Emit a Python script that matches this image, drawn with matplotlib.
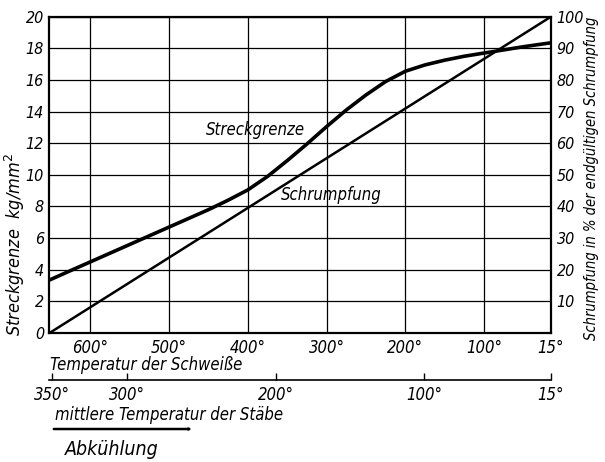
import matplotlib
matplotlib.use("Agg")
import matplotlib.pyplot as plt

# Temperatur der Schweisse (deg C) and Streckgrenze (kg/mm^2)
temp = [652, 625, 600, 575, 550, 525, 500, 475, 450, 425, 400, 375, 350,
        325, 300, 275, 250, 225, 200, 175, 150, 125, 100, 75, 50, 15]
streck = [3.35, 3.95, 4.5, 5.05, 5.6, 6.15, 6.7, 7.25, 7.8, 8.4, 9.05, 9.9, 10.9,
          11.95, 13.05, 14.1, 15.05, 15.9, 16.55, 16.95, 17.25, 17.5, 17.7, 17.9, 18.1, 18.35]
# Schrumpfung in % (straight line)
schr_temp = [652, 15]
schr = [0, 100]

x_ticks = [600, 500, 400, 300, 200, 100, 15]
x_labels = ["600°", "500°", "400°", "300°", "200°", "100°", "15°"]
stab_ticks = [350, 300, 200, 100, 15]
stab_labels = ["350°", "300°", "200°", "100°", "15°"]
left_ticks = list(range(0, 21, 2))
right_ticks = list(range(10, 101, 10))

font = dict(family="DejaVu Sans", style="oblique", stretch="condensed")
fs = 12

fig = plt.figure(figsize=(6.05, 4.62), dpi=100)
L, B, W, H = 0.0818, 0.2792, 0.8289, 0.6847
ax = fig.add_axes([L, B, W, H])
ax.set_xlim(652, 15)
ax.set_ylim(0, 20)
ax.set_xticks(x_ticks)
ax.set_xticklabels(x_labels, **font, fontsize=fs)
ax.set_yticks(left_ticks)
ax.set_yticklabels([str(t) for t in left_ticks], **font, fontsize=fs - 0.5)
ax.tick_params(length=0, pad=4)
ax.grid(True, color="black", lw=0.9)
for s in ax.spines.values():
    s.set_linewidth(1.6)

ax.plot(temp, streck, color="black", lw=2.6, solid_capstyle="round",
        solid_joinstyle="round")

ax_r = ax.twinx()
ax_r.set_ylim(0, 100)
ax_r.set_yticks(right_ticks)
ax_r.set_yticklabels([str(t) for t in right_ticks], **font, fontsize=fs - 0.5)
ax_r.tick_params(length=0, pad=4)
ax_r.plot(schr_temp, schr, color="black", lw=1.8)
for s in ax_r.spines.values():
    s.set_visible(False)

ax.text(390, 12.85, "Streckgrenze", ha="center", va="center", fontsize=fs, **font)
ax.text(294, 8.73, "Schrumpfung", ha="center", va="center", fontsize=fs, **font)

fig.text(0.024, 0.47, "Streckgrenze  kg/mm$^2$", rotation=90, ha="center", va="center",
         fontsize=fs + 1, **font)
fig.text(0.978, 0.615, "Schrumpfung in % der endgültigen Schrumpfung", rotation=90,
         ha="center", va="center", fontsize=fs - 1.5, **font)
fig.text(0.0826, 0.21, "Temperatur der Schweiße", ha="left", va="center", fontsize=fs, **font)

# secondary scale: mittlere Temperatur der Staebe
ax2 = fig.add_axes([L, 0.1775, W, 0.001])
ax2.set_xlim(352, 15)
ax2.set_ylim(0, 1)
ax2.set_yticks([])
ax2.set_xticks(stab_ticks)
ax2.set_xticklabels(stab_labels, **font, fontsize=fs)
ax2.tick_params(axis="x", direction="in", length=5, width=1, pad=4)
for k in ["top", "left", "right"]:
    ax2.spines[k].set_visible(False)
ax2.spines["bottom"].set_linewidth(1.2)
ax2.patch.set_visible(False)

fig.text(0.091, 0.1017, "mittlere Temperatur der Stäbe", ha="left", va="center",
         fontsize=fs, **font)
fig.add_artist(matplotlib.patches.FancyArrowPatch(
    (0.0843, 0.0714), (0.325, 0.0714), transform=fig.transFigure,
    arrowstyle="->,head_length=0.9,head_width=0.25", lw=1.8, color="black"))
fig.text(0.107, 0.028, "Abkühlung", ha="left", va="center", fontsize=fs + 2, **font)

fig.savefig("out.png", dpi=100)
